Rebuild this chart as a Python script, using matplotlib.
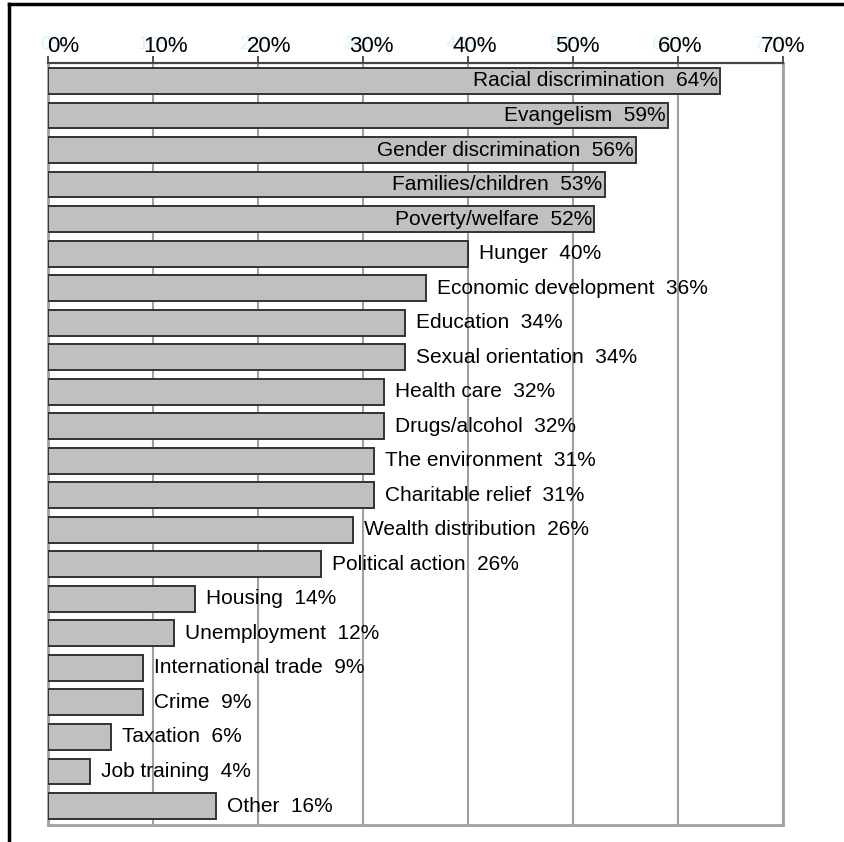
import matplotlib.pyplot as plt
from matplotlib.lines import Line2D
from matplotlib.transforms import blended_transform_factory, offset_copy

plt.rcParams['font.family'] = ['Liberation Sans', 'DejaVu Sans']

# %% Data
categories = ['Racial discrimination', 'Evangelism', 'Gender discrimination',
              'Families/children', 'Poverty/welfare', 'Hunger',
              'Economic development', 'Education', 'Sexual orientation',
              'Health care', 'Drugs/alcohol', 'The environment',
              'Charitable relief', 'Wealth distribution', 'Political action',
              'Housing', 'Unemployment', 'International trade', 'Crime',
              'Taxation', 'Job training', 'Other']
# bar lengths as drawn (percent)
bar_values = [64, 59, 56, 53, 52, 40, 36, 34, 34, 32, 32, 31, 31, 29, 26,
              14, 12, 9, 9, 6, 4, 16]
# percentages printed in the labels
label_values = [64, 59, 56, 53, 52, 40, 36, 34, 34, 32, 32, 31, 31, 26, 26,
                14, 12, 9, 9, 6, 4, 16]
tick_values = [0, 10, 20, 30, 40, 50, 60, 70]
tick_labels = ['0%', '10%', '20%', '30%', '40%', '50%', '60%', '70%']

# %% Figure
fig = plt.figure(figsize=(8.44, 8.42), dpi=100)
ax = fig.add_axes([48 / 844, 1 - 825 / 842, 735 / 844, 762 / 842])

ypos = list(range(len(categories)))
ax.barh(ypos, bar_values, height=0.75, color='#c0c0c0', edgecolor='#333333',
        linewidth=1.4, zorder=3)

for y, v, name, lv in zip(ypos, bar_values, categories, label_values):
    text = '{}  {}%'.format(name, lv)
    if v >= 50:
        ax.annotate(text, (v, y), xytext=(-1.5, 0), textcoords='offset points',
                    ha='right', va='center', fontsize=15, zorder=4)
    else:
        ax.annotate(text, (v, y), xytext=(8, 0), textcoords='offset points',
                    ha='left', va='center', fontsize=15, zorder=4)

ax.set_xlim(0, 70)
ax.set_ylim(len(categories) - 0.45, -0.52)
ax.set_yticks([])
ax.set_xticks(tick_values)
ax.xaxis.tick_top()
ax.tick_params(axis='x', direction='out', length=5, width=1.2,
               color='#333333', labeltop=False, labelbottom=False)
ax.grid(axis='x', color='#a0a0a0', linewidth=1.5, zorder=0)
ax.set_axisbelow(True)

ax.spines['top'].set_color('#444444')
ax.spines['top'].set_linewidth(1.6)
for side in ['left', 'right', 'bottom']:
    ax.spines[side].set_color('#a0a0a0')
    ax.spines[side].set_linewidth(2)

# tick labels spread evenly between first and last tick
trans = blended_transform_factory(ax.transData, ax.transAxes)
n = len(tick_values)
start = 1.45
for i, lab in enumerate(tick_labels):
    x = start + i * (tick_values[-1] - start) / (n - 1)
    ghost = offset_copy(trans, fig=fig, x=-9, y=4, units='dots')
    ax.text(x, 1.008, lab, transform=ghost, ha='center', va='bottom',
            fontsize=14, color='#d8f5fb', clip_on=False)
    ax.text(x, 1.008, lab, transform=trans, ha='center', va='bottom',
            fontsize=16, color='black', clip_on=False)

# outer frame (top and left)
fig.add_artist(Line2D([9 / 844, 1], [1 - 4 / 842, 1 - 4 / 842],
                      transform=fig.transFigure, color='black', lw=2.5))
fig.add_artist(Line2D([9 / 844, 9 / 844], [0, 1 - 4 / 842],
                      transform=fig.transFigure, color='black', lw=2.5))

plt.savefig('out.png', dpi=100)
plt.close(fig)
